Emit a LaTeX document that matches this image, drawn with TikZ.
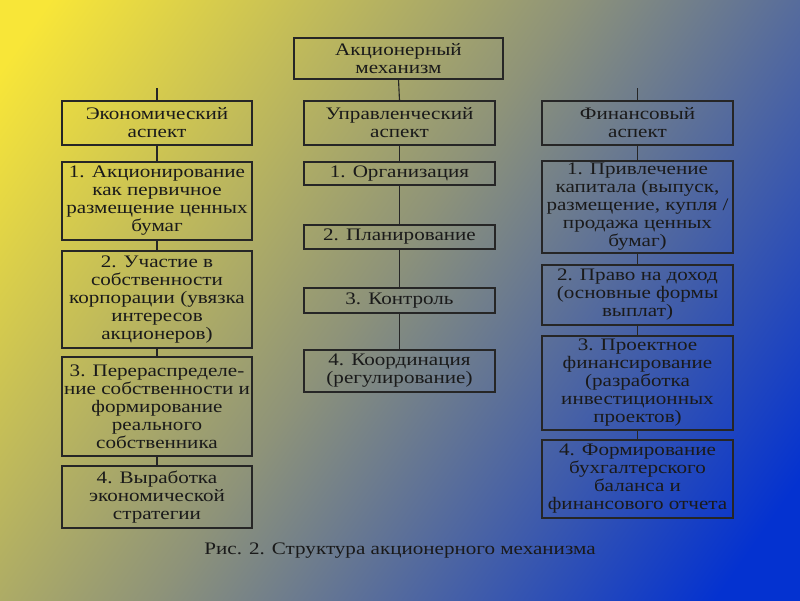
\documentclass[tikz,border=0pt]{standalone}
\usepackage{fontspec}
\setmainfont{Liberation Serif}[FakeStretch=1.2]
\usepackage{tikz}
\usetikzlibrary{positioning, calc}
\definecolor{akyellow}{HTML}{F8E638}
\definecolor{akmid}{HTML}{8E9379}
\definecolor{akblue}{HTML}{0432D0}
\definecolor{akline}{HTML}{262626}
\definecolor{aktext}{HTML}{1A1A1A}
\pgfdeclareverticalshading{akgrad}{100bp}{color(0bp)=(akblue); color(20bp)=(akblue);
  color(52bp)=(akmid); color(82bp)=(akyellow); color(100bp)=(akyellow)}
\tikzset{
  akbox/.style={draw=akline, line width=0.8pt, inner sep=1pt,
                align=center, text=aktext, font=\fontsize{12.5}{12.8}\selectfont},
  aklink/.style={akline, line width=0.8pt},
}
% box from (x1,y1) to (x2,y2) in pixels
\newcommand{\akrect}[6]{%
  \node[akbox, minimum width={(#4-#2)*0.025cm}, minimum height={(#5-#3)*0.025cm}]
    (#1) at ({(#2+#4)/2},{(#3+#5)/2}) {#6};
}

\begin{document}
\begin{tikzpicture}[x=0.025cm, y=-0.025cm]

  \shade[shading=akgrad, shading angle=55] (0,0) rectangle (800,600);
  \useasboundingbox (0,0) rectangle (800,600);

  \akrect{mech}{294}{38}{503}{79}{Акционерный\\механизм}

  % aspects
  \akrect{econ}{62}{101}{252}{145}{Экономический\\аспект}
  \akrect{mgmt}{304}{101}{495}{145}{Управленческий\\аспект}
  \akrect{fin}{542}{101}{733}{145}{Финансовый\\аспект}

  % economic column
  \akrect{econA}{62}{162}{252}{240}{1. Акционирование\\как первичное\\размещение ценных\\бумаг}
  \akrect{econB}{62}{251}{252}{348}{2. Участие в\\собственности\\корпорации (увязка\\интересов\\акционеров)}
  \akrect{econC}{62}{357}{252}{456}{3. Перераспределе-\\ние собственности и\\формирование\\реального\\собственника}
  \akrect{econD}{62}{466}{252}{528}{4. Выработка\\экономической\\стратегии}

  % management column
  \akrect{mgmtA}{304}{162}{495}{185}{1. Организация}
  \akrect{mgmtB}{304}{225}{495}{249}{2. Планирование}
  \akrect{mgmtC}{304}{288}{495}{313}{3. Контроль}
  \akrect{mgmtD}{304}{350}{495}{392}{4. Координация\\(регулирование)}

  % financial column
  \akrect{finA}{542}{161}{733}{253}{1. Привлечение\\капитала (выпуск,\\размещение, купля /\\продажа ценных\\бумаг)}
  \akrect{finB}{542}{265}{733}{325}{2. Право на доход\\(основные формы\\выплат)}
  \akrect{finC}{542}{336}{733}{430}{3. Проектное\\финансирование\\(разработка\\инвестиционных\\проектов)}
  \akrect{finD}{542}{440}{733}{518}{4. Формирование\\бухгалтерского\\баланса и\\финансового отчета}

  % links
  \coordinate (econtop) at ($(econ.north)+(0,-12)$);
  \coordinate (fintop) at ($(fin.north)+(0,-12)$);
  \draw[aklink] (mech.south) -- (mgmt.north);
  \draw[aklink] (econtop) -- (econ.north);
  \draw[aklink] (fintop) -- (fin.north);
  \draw[aklink] (econ.south) -- (econA.north);
  \draw[aklink] (econA.south) -- (econB.north);
  \draw[aklink] (econB.south) -- (econC.north);
  \draw[aklink] (econC.south) -- (econD.north);
  \draw[aklink] (mgmt.south) -- (mgmtA.north);
  \draw[aklink] (mgmtA.south) -- (mgmtB.north);
  \draw[aklink] (mgmtB.south) -- (mgmtC.north);
  \draw[aklink] (mgmtC.south) -- (mgmtD.north);
  \draw[aklink] (fin.south) -- (finA.north);
  \draw[aklink] (finA.south) -- (finB.north);
  \draw[aklink] (finB.south) -- (finC.north);
  \draw[aklink] (finC.south) -- (finD.north);

  \node[text=aktext, font=\fontsize{12.5}{12.5}\selectfont] (caption) at (400,551)
    {Рис. 2. Структура акционерного механизма};

\end{tikzpicture}
\end{document}
